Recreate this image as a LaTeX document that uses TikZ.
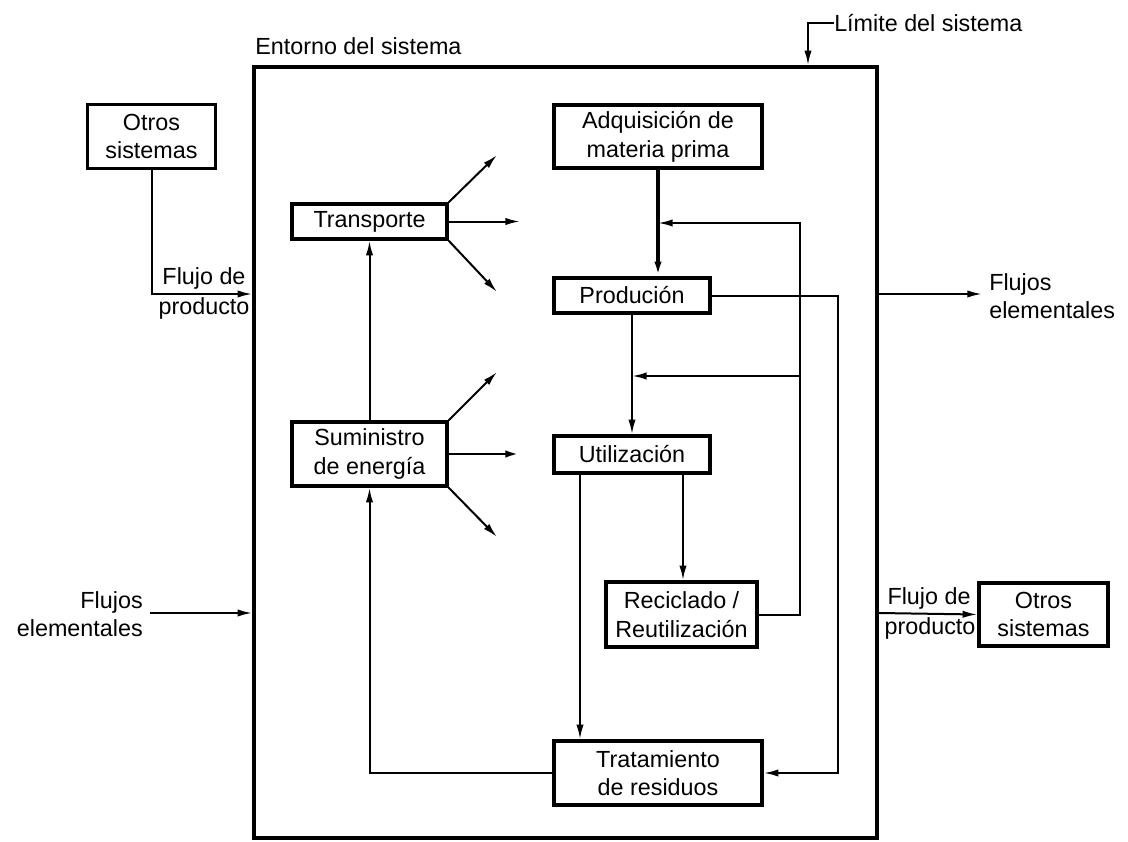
\documentclass[tikz,border=0pt]{standalone}
\usepackage{fontspec}
\setmainfont{Liberation Sans}
\usetikzlibrary{arrows.meta}
\begin{document}
\begin{tikzpicture}[x=0.75pt,y=-0.75pt,
  every node/.style={font=\fontsize{17.5}{21.5}\selectfont},
  box/.style={draw,line width=2.6pt,inner sep=0pt,align=center},
  conn/.style={line width=1.5pt,-{Latex[length=11pt,width=5.5pt]}},
  lbl/.style={inner sep=0pt,align=center}]
\useasboundingbox (0,0) rectangle (1128,842);
% system boundary
\node[draw,line width=2.6pt,minimum width=467.25pt,minimum height=578.25pt,inner sep=0pt] (sys) at (565.5,452.5) {};
\node[lbl,anchor=west] (entorno) at (255,46) {Entorno del sistema};
\node[lbl,anchor=west] (limite) at (834,23) {Límite del sistema};
% helper coordinates
\coordinate (x808) at (808,0);
\coordinate (x580) at (580,0);
\coordinate (x683) at (683,0);
\coordinate (y294) at (0,294);
\coordinate (y613) at (0,613);
% boxes
\node[box,minimum width=96pt,minimum height=48pt] (otrosL) at (151.5,136.5) {Otros\\sistemas};
\node[box,minimum width=116.25pt,minimum height=26.25pt] (transp) at (369.5,221.5) {Transporte};
\node[box,minimum width=116.25pt,minimum height=48pt] (sumin) at (369.5,454) {Suministro\\de energía};
\node[box,minimum width=156pt,minimum height=47.25pt] (adq) at (658,136.5) {Adquisición de\\materia prima};
\node[box,minimum width=117pt,minimum height=26.25pt] (prod) at (632,295.5) {Produción};
\node[box,minimum width=117pt,minimum height=27.75pt] (util) at (632,454.5) {Utilización};
\node[box,minimum width=113.25pt,minimum height=48.75pt] (recic) at (681.5,614.5) {Reciclado /\\Reutilización};
\node[box,minimum width=156pt,minimum height=48pt] (trat) at (658,773) {Tratamiento\\de residuos};
\node[box,minimum width=96.75pt,minimum height=47.25pt] (otrosR) at (1043.5,614.5) {Otros\\sistemas};
% limit leader
\draw[conn] (limite.west) -| (sys.north -| x808);
% left product flow
\draw[conn] (otrosL.south) |- (sys.west |- y294);
\node[lbl] (fl1) at (204,278) {Flujo de};
\node[lbl] (pr1) at (204,308) {producto};
% right elementary flows
\coordinate (e1) at (982,294);
\draw[conn] (sys.east |- y294) -- (e1);
\node[lbl,anchor=west,align=left] (fe1) at (989,296) {Flujos\\elementales};
% left elementary flows
\coordinate (e2) at (150,613);
\draw[conn] (e2) -- (sys.west |- y613);
\node[lbl,anchor=east,align=right] (fe2) at (143,614) {Flujos\\elementales};
% right product flow
\draw[conn] (sys.east |- y613) -- (otrosR.west);
\node[lbl] (fl2) at (929,598) {Flujo de};
\node[lbl] (pr2) at (930,628) {producto};
% transport fan
\coordinate (t1) at (497,155);
\coordinate (t2) at (520,221.5);
\coordinate (t3) at (497,292);
\draw[conn] (transp.north east) -- (t1);
\draw[conn] (transp.east) -- (t2);
\draw[conn] (transp.south east) -- (t3);
% energy fan
\coordinate (s1) at (497,372);
\coordinate (s2) at (520,454);
\coordinate (s3) at (497,537);
\draw[conn] (sumin.north east) -- (s1);
\draw[conn,line width=2.2pt] (sumin.east) -- (s2);
\draw[conn] (sumin.south east) -- (s3);
% energy to transport
\draw[conn] (sumin.north) -- (transp.south);
% main chain
\draw[conn,line width=2.6pt] (adq.south) -- (adq.south |- prod.north);
\draw[conn] (prod.south) -- (util.north);
\draw[conn] (util.south -| x683) -- (recic.north -| x683);
\draw[conn] (util.south -| x580) -- (trat.north -| x580);
% recycling loop
\coordinate (r1) at (800,223);
\coordinate (r2) at (800,376);
\draw[conn] (recic.east) -| (r1) -- (adq.south |- r1);
\draw[conn] (r2) -- (prod.south |- r2);
% production to waste
\coordinate (q1) at (838,295.5);
\draw[conn] (prod.east) -- (q1) |- (trat.east);
% waste to energy
\draw[conn] (trat.west) -| (sumin.south);
\end{tikzpicture}
\end{document}
